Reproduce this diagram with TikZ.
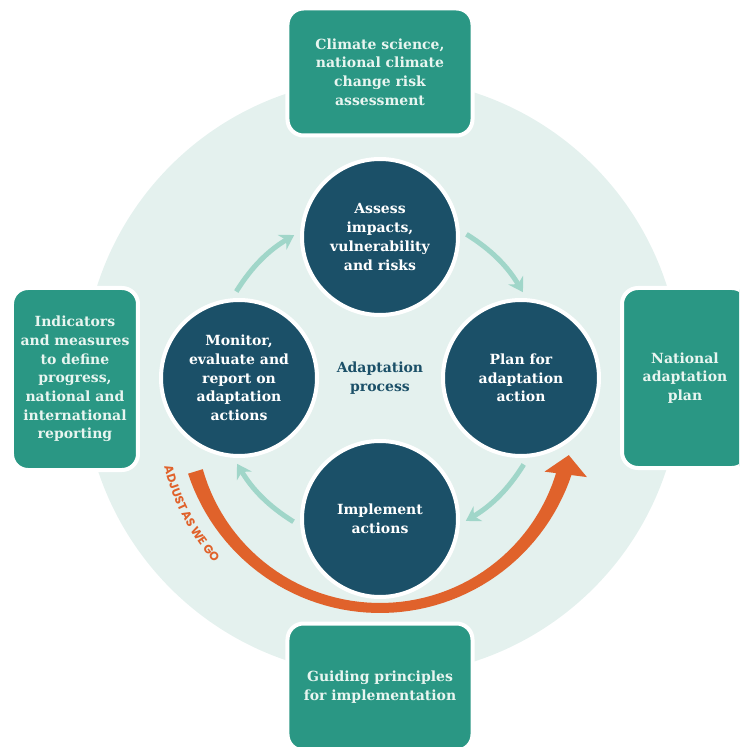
\documentclass[tikz,border=0pt]{standalone}
\usepackage{fontspec}
\setmainfont{DejaVu Serif}
\newfontfamily\tagfont{Poppins}
\usetikzlibrary{arrows.meta,decorations.text}

\definecolor{discmint}{RGB}{228,241,238}
\definecolor{boxteal}{RGB}{42,151,132}
\definecolor{boxtext}{RGB}{232,245,240}
\definecolor{stagenavy}{RGB}{27,80,104}
\definecolor{flowmint}{RGB}{160,214,201}
\definecolor{adjustorange}{RGB}{224,98,43}

\begin{document}
\begin{tikzpicture}[x=1pt, y=1pt,
  font=\fontsize{14}{18.7}\selectfont\bfseries,
  infobox/.style={fill=boxteal, draw=white, line width=4pt,
    rounded corners=16pt, text=boxtext, align=center, inner sep=0pt},
  stage/.style={circle, fill=stagenavy, draw=white, line width=4pt,
    minimum size=156pt, text=white, align=center, inner sep=0pt},
  flow/.style={draw=flowmint, line width=5pt,
    -{Stealth[length=14pt, width=17pt]}, shorten <=8pt, shorten >=7pt},
  declare function={bandw(\t)=10+0.001*(\t+90)^2;}]

  \useasboundingbox (-380,-369) rectangle (359,378);
  \clip (-380,-369) rectangle (359,378);

  %% ── Background disc ─────────────────────────────
  \fill[discmint] (2,1) circle (299);

  %% ── Adjust-as-we-go arrow (centre below the hub) ─
  \coordinate (bend) at (0,-37);
  \begin{scope}[shift={(bend)}]
    \fill[adjustorange]
      plot[domain=-163:-17, samples=60] (\x:{193+bandw(\x)/2})
      -- plot[domain=-17:-163, samples=60] (\x:{193-bandw(\x)/2}) -- cycle;
    \fill[adjustorange] (-19:174) -- (-16.7:216) -- (-12:193) -- cycle;
    \path[decorate, decoration={text along path, text align=left,
      text={|\tagfont\bfseries\fontsize{12}{12}\selectfont\color{adjustorange}|ADJUST AS WE GO}}]
      (-166.5:222) arc[start angle=-166.5, end angle=-120, radius=222];
  \end{scope}

  %% ── Outer boxes ─────────────────────────────────
  \node[infobox, minimum width=185pt, minimum height=127pt] (science) at (0,306)
    {Climate science,\\national climate\\change risk\\assessment};
  \node[infobox, minimum width=126pt, minimum height=182pt] (indicators) at (-305,-1)
    {Indicators\\and measures\\to define\\progress,\\national and\\international\\reporting};
  \node[infobox, minimum width=126pt, minimum height=180pt] (napplan) at (305,0)
    {National\\adaptation\\plan};
  \node[infobox, minimum width=185pt, minimum height=127pt] (principles) at (0,-309)
    {Guiding principles\\for implementation};

  %% ── Process stages ──────────────────────────────
  \node[stage] (assess)    at (0,141)  {Assess\\impacts,\\vulnerability\\and risks};
  \node[stage] (plan)      at (141,0)  {Plan for\\adaptation\\action};
  \node[stage] (implement) at (0,-141) {Implement\\actions};
  \node[stage] (monitor)   at (-141,0) {Monitor,\\evaluate and\\report on\\adaptation\\actions};
  \node[text=stagenavy, align=center] (process) at (0,0) {Adaptation\\process};

  %% ── Cycle arrows (clockwise) ────────────────────
  \foreach \a/\b/\r in {monitor/assess/180, assess/plan/90,
                        plan/implement/0, implement/monitor/-90}{
    \pgfmathtruncatemacro\fromang{\r-85}
    \pgfmathtruncatemacro\toang{\r-4}
    \pgfmathtruncatemacro\outang{\r-122}
    \pgfmathtruncatemacro\inang{\r+31}
    \draw[flow] (\a.\fromang) to[out=\outang, in=\inang] (\b.\toang);
  }
\end{tikzpicture}
\end{document}
